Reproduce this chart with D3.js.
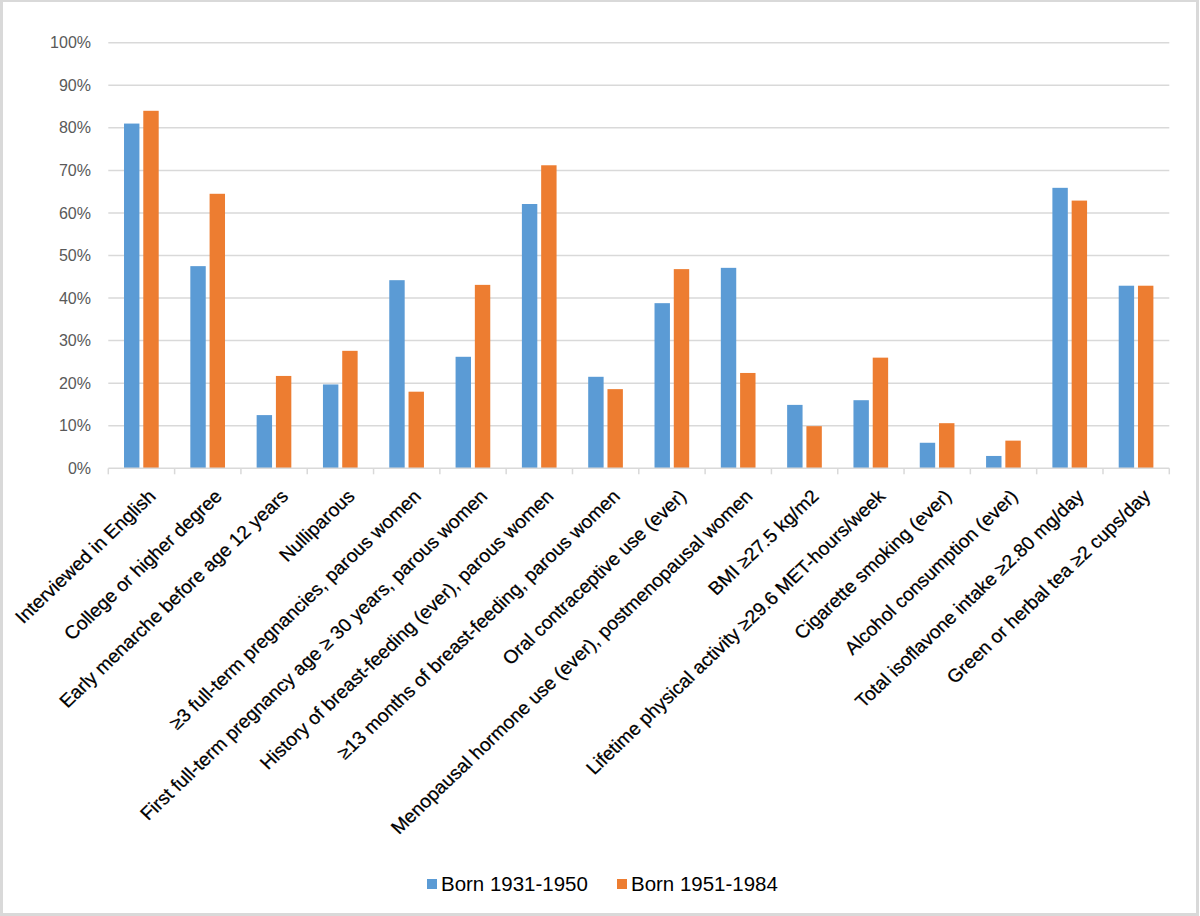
<!DOCTYPE html>
<html>
<head>
<meta charset="utf-8">
<script src="https://cdn.jsdelivr.net/npm/d3@7"></script>
<style>
  html, body { margin: 0; padding: 0; background: #fff; }
  svg { display: block; }
</style>
</head>
<body>
<svg id="chart" width="1200" height="916"></svg>
<script>
const categories = [
  "Interviewed in English",
  "College or higher degree",
  "Early menarche before age 12 years",
  "Nulliparous",
  "≥3 full-term pregnancies, parous women",
  "First full-term pregnancy age ≥ 30 years, parous women",
  "History of breast-feeding (ever), parous women",
  "≥13 months of breast-feeding, parous women",
  "Oral contraceptive use (ever)",
  "Menopausal hormone use (ever), postmenopausal women",
  "BMI ≥27.5 kg/m2",
  "Lifetime physical activity ≥29.6 MET-hours/week",
  "Cigarette smoking (ever)",
  "Alcohol consumption (ever)",
  "Total isoflavone intake ≥2.80 mg/day",
  "Green or herbal tea ≥2 cups/day"
];
const seriesNames = ["Born 1931-1950", "Born 1951-1984"];
const born1931_1950 = [81, 47.5, 12.5, 19.7, 44.2, 26.2, 62.1, 21.5, 38.8, 47.1, 14.9, 16, 6, 2.9, 65.9, 42.9];
const born1951_1984 = [84, 64.5, 21.7, 27.6, 18, 43.1, 71.2, 18.6, 46.8, 22.4, 9.9, 26, 10.6, 6.5, 62.9, 42.9];
const yTicks = [0, 10, 20, 30, 40, 50, 60, 70, 80, 90, 100];
const colors = ["#5B9BD5", "#ED7D31"];

(function () {
const svg = d3.select("#chart");
const stretch = 1.05;
const font = "Liberation Sans, Arial, sans-serif";

// frame
svg.append("rect").attr("x", 1.5).attr("y", 0.5).attr("width", 1196).attr("height", 914)
  .attr("fill", "none").attr("stroke", "#d9d9d9").attr("stroke-width", 3);

const pLeft = 108.3, pRight = 1169.3, pTop = 42.7, pBottom = 468.3;

const x0 = d3.scaleBand().domain(categories).range([pLeft, pRight]).paddingInner(0).paddingOuter(0);
const bw = x0.bandwidth();
const x1 = d3.scaleBand().domain(seriesNames).range([bw * 0.237, bw * 0.76]).paddingInner(0.2);
const y = d3.scaleLinear().domain([0, 100]).range([pBottom, pTop]);

// gridlines
svg.append("g").selectAll("line").data(yTicks.filter(d => d > 0)).join("line")
  .attr("x1", pLeft).attr("x2", pRight)
  .attr("y1", d => y(d)).attr("y2", d => y(d))
  .attr("stroke", "#d9d9d9").attr("stroke-width", 1.5);

// y labels
svg.append("g").selectAll("text").data(yTicks).join("text")
  .attr("x", 91).attr("y", d => y(d)).attr("dy", "0.35em")
  .attr("text-anchor", "end")
  .attr("font-family", font)
  .attr("font-size", 16).attr("fill", "#595959")
  .text(d => d + "%");

// bars
const data = categories.map((c, i) => ({ cat: c, vals: [born1931_1950[i], born1951_1984[i]] }));
const groups = svg.append("g").selectAll("g").data(data).join("g")
  .attr("transform", d => `translate(${x0(d.cat)},0)`);
groups.selectAll("rect").data(d => d.vals.map((v, j) => ({ s: seriesNames[j], v, j }))).join("rect")
  .attr("x", d => x1(d.s)).attr("width", x1.bandwidth())
  .attr("y", d => y(d.v)).attr("height", d => y(0) - y(d.v))
  .attr("fill", d => colors[d.j]);

// x axis line and ticks
svg.append("line").attr("x1", pLeft).attr("x2", pRight).attr("y1", y(0)).attr("y2", y(0))
  .attr("stroke", "#d9d9d9").attr("stroke-width", 1.5);
const tickPos = categories.map(c => x0(c)).concat([pRight]);
svg.append("g").selectAll("line").data(tickPos).join("line")
  .attr("x1", d => d).attr("x2", d => d).attr("y1", y(0)).attr("y2", y(0) + 6)
  .attr("stroke", "#d9d9d9").attr("stroke-width", 1.5);

// category labels
svg.append("g").selectAll("text").data(categories).join("text")
  .attr("transform", d => `translate(${x0(d) + bw / 2 + 5.5},${488}) scale(${stretch},1) rotate(-45)`)
  .attr("text-anchor", "end").attr("dy", "0.72em")
  .attr("font-family", font)
  .attr("font-size", 18.5).attr("fill", "#000")
  .attr("stroke", "#000").attr("stroke-width", 0.25)
  .text(d => d);

// legend
const legendX = [427, 617];
const lg = svg.append("g").selectAll("g").data(seriesNames).join("g")
  .attr("transform", (d, i) => `translate(${legendX[i]},884)`);
lg.append("rect").attr("x", 0).attr("y", -5).attr("width", 10).attr("height", 10)
  .attr("fill", (d, i) => colors[i]);
lg.append("text").attr("transform", `translate(14,0) scale(${stretch},1)`).attr("dy", "0.36em")
  .attr("font-family", font)
  .attr("font-size", 19.5).attr("fill", "#000")
  .text(d => d);
})();
</script>
</body>
</html>
